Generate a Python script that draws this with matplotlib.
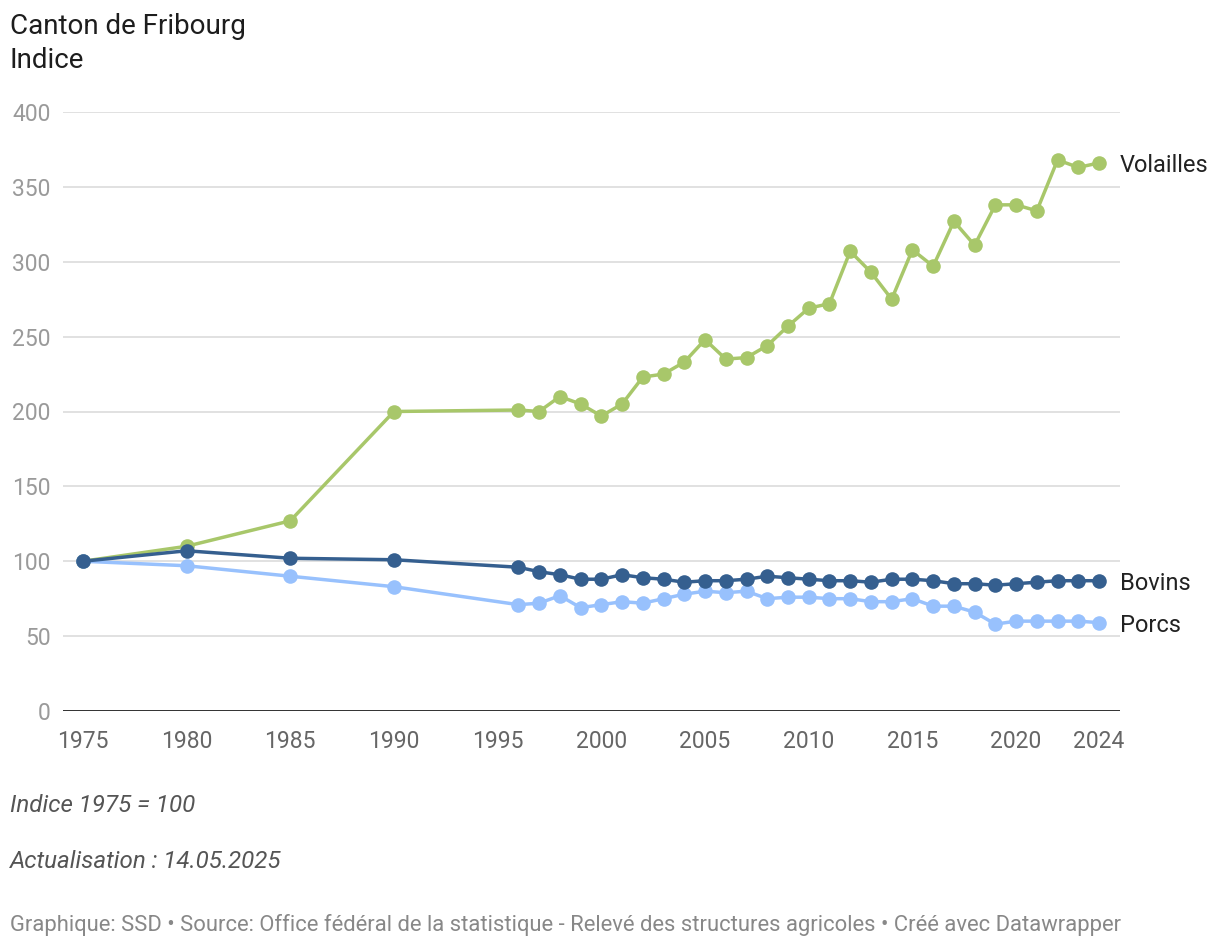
import numpy as np
import matplotlib
matplotlib.use('Agg')
import matplotlib.pyplot as plt

plt.rcParams['font.family'] = ['Roboto', 'DejaVu Sans']

years = [1975, 1980, 1985, 1990, 1996, 1997, 1998, 1999, 2000, 2001, 2002,
         2003, 2004, 2005, 2006, 2007, 2008, 2009, 2010, 2011, 2012, 2013,
         2014, 2015, 2016, 2017, 2018, 2019, 2020, 2021, 2022, 2023, 2024]

volailles = [100, 110, 127, 200, 201, 200, 210, 205, 197, 205, 223,
             225, 233, 248, 235, 236, 244, 257, 269, 272, 307, 293,
             275, 308, 297, 327, 311, 338, 338, 334, 368, 363, 366]

bovins = [100, 107, 102, 101, 96, 93, 91, 88, 88, 91, 89,
          88, 86, 87, 87, 88, 90, 89, 88, 87, 87, 86,
          88, 88, 87, 85, 85, 84, 85, 86, 87, 87, 87]

porcs = [100, 97, 90, 83, 71, 72, 77, 69, 71, 73, 72,
         75, 78, 80, 79, 80, 75, 76, 76, 75, 75, 73,
         73, 75, 70, 70, 66, 58, 60, 60, 60, 60, 59]

series = [('Volailles', volailles, '#a8c76a'),
          ('Porcs', porcs, '#98c1fd'),
          ('Bovins', bovins, '#355f8f')]

xticks = [1975, 1980, 1985, 1990, 1995, 2000, 2005, 2010, 2015, 2020, 2024]
yticks = [0, 50, 100, 150, 200, 250, 300, 350, 400]

fig = plt.figure(figsize=(12.2, 9.5), dpi=100)
ax = fig.add_axes([63/1220, 1 - 711/950, (1120-63)/1220, (711-112)/950])

for name, vals, col in series:
    ax.plot(years, vals, color=col, lw=2.5, marker='o', markersize=10.5,
            markeredgewidth=0, solid_capstyle='round', zorder=3, clip_on=False)
    ax.text(2025.0, vals[-1] - 2, name, fontsize=17, color='#222222',
            va='center', ha='left', clip_on=False)

ax.set_xlim(1974.04, 2025.01)
ax.set_ylim(0, 400)
ax.set_yticks(yticks)
ax.set_xticks(xticks)
ax.set_xticklabels([str(t) for t in xticks], fontsize=16.5, color='#666666')
ax.set_yticklabels([str(t) for t in yticks], fontsize=16.5, color='#9a9a9a')
ax.tick_params(axis='both', length=0)
ax.tick_params(axis='x', pad=14)
ax.tick_params(axis='y', pad=9)
for lab in ax.get_yticklabels():
    lab.set_horizontalalignment('right')

ax.grid(axis='y', color='#e1e1e1', lw=1.4, zorder=0)
ax.axhline(0, color='#222222', lw=2, zorder=4)
for s in ax.spines.values():
    s.set_visible(False)

fig.text(10/1220, 1 - 27/950, 'Canton de Fribourg', fontsize=20,
         color='#1d1d1d', va='center', ha='left')
fig.text(10/1220, 1 - 61/950, 'Indice', fontsize=20,
         color='#1d1d1d', va='center', ha='left')

fig.text(10/1220, 1 - 805/950, 'Indice 1975 = 100', fontsize=17.4,
         style='italic', color='#555555', va='center', ha='left')
fig.text(10/1220, 1 - 861/950, 'Actualisation : 14.05.2025', fontsize=17.4,
         style='italic', color='#555555', va='center', ha='left')
fig.text(10/1220, 1 - 925/950,
         'Graphique: SSD \u2022 Source: Office f\u00e9d\u00e9ral de la statistique - '
         'Relev\u00e9 des structures agricoles \u2022 Cr\u00e9\u00e9 avec Datawrapper',
         fontsize=15.8, color='#888888', va='center', ha='left')

fig.savefig('out.png', dpi=100, facecolor='white')
